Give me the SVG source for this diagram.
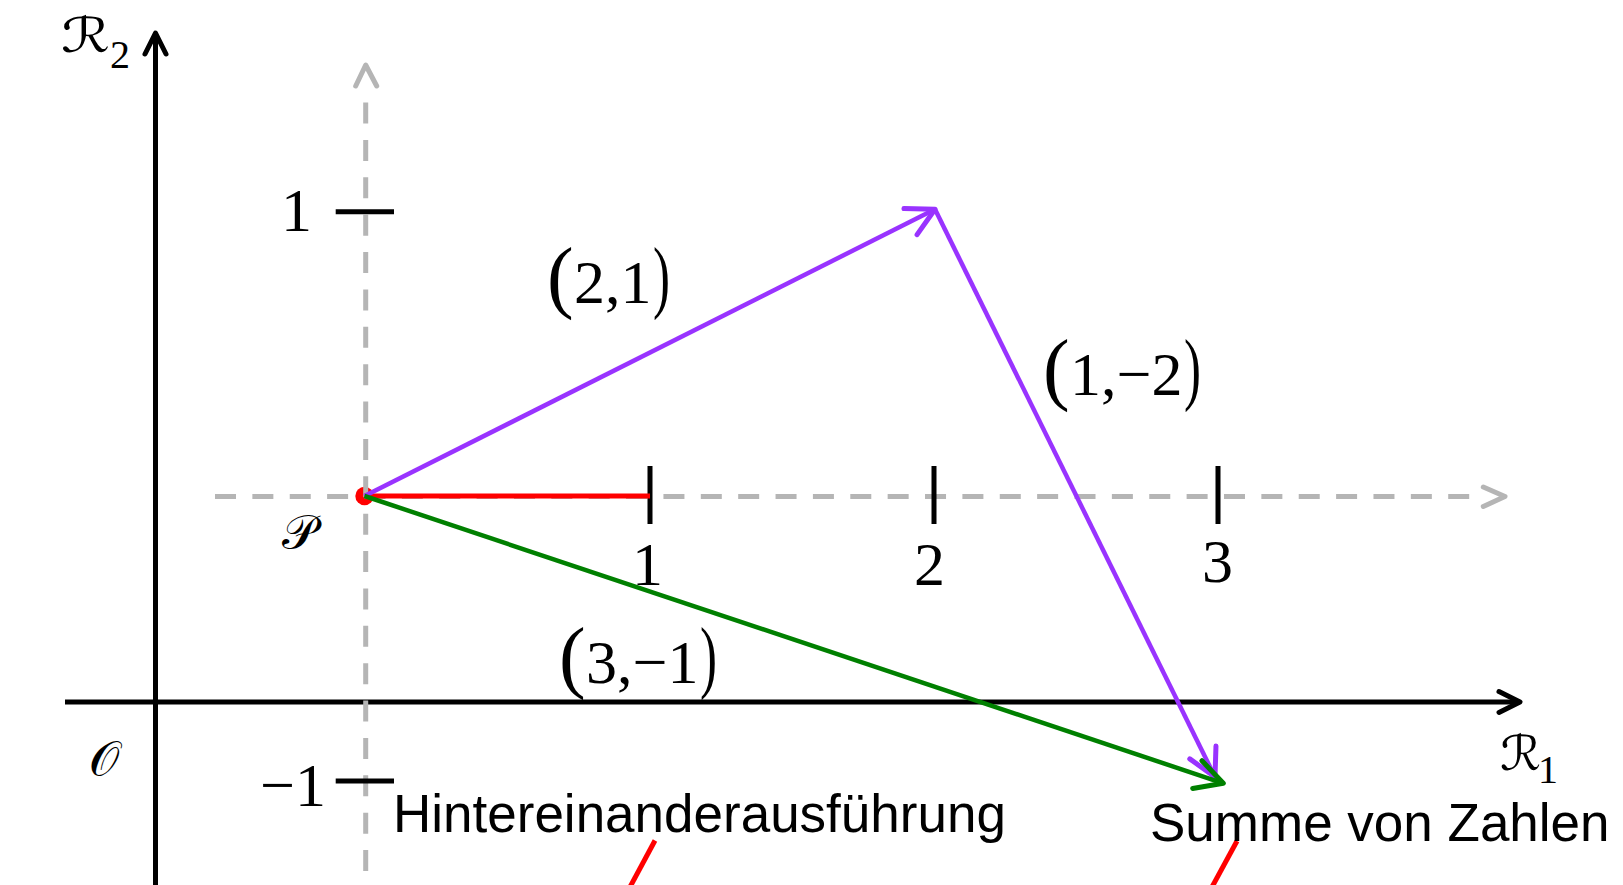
<svg xmlns="http://www.w3.org/2000/svg" width="1623" height="885" viewBox="0 0 1623 885">
<style>
.m{font-family:"Liberation Serif","Times New Roman",serif;font-size:62px;fill:#000}
.bp{font-size:80px}
.s{font-family:"Liberation Sans",Arial,sans-serif;font-size:53px;fill:#000}
.cal{font-family:"DejaVu Serif","DejaVu Sans","Noto Sans",serif;font-size:48px;fill:#000}
.sub{font-family:"Liberation Serif","Times New Roman",serif;font-size:40px}
.axis{stroke:#000;stroke-width:5;fill:none}
.tick{stroke:#000;stroke-width:5;fill:none}
.gd{stroke:#b5b5b5;stroke-width:5;fill:none;stroke-dasharray:21 16.37}
.gh{stroke:#b5b5b5;stroke-width:5;fill:none;stroke-linecap:round;stroke-linejoin:round}
.pv{stroke:#9933ff;stroke-width:4.5;fill:none}
.gv{stroke:#008000;stroke-width:4.5;fill:none}
.rl{stroke:#ff0000;stroke-width:5;fill:none}
</style>
<defs>
<marker id="ahP" markerUnits="userSpaceOnUse" orient="auto" overflow="visible" markerWidth="1" markerHeight="1" refX="0" refY="0">
<path d="M-27.4,-14.6 L0,0 L-27.4,14.6" fill="none" stroke="#9933ff" stroke-width="5" stroke-linecap="round" stroke-linejoin="round"/>
</marker>
<marker id="ahG" markerUnits="userSpaceOnUse" orient="auto" overflow="visible" markerWidth="1" markerHeight="1" refX="0" refY="0">
<path d="M-27.4,-14.6 L0,0 L-27.4,14.6" fill="none" stroke="#008000" stroke-width="5" stroke-linecap="round" stroke-linejoin="round"/>
</marker>
<marker id="ahK" markerUnits="userSpaceOnUse" orient="auto" overflow="visible" markerWidth="1" markerHeight="1" refX="0" refY="0">
<path d="M-21,-10.5 L0,0 L-21,10.5" fill="none" stroke="#000" stroke-width="5" stroke-linecap="round" stroke-linejoin="round"/>
</marker>
</defs>
<rect width="1623" height="885" fill="#fff"/>

<g id="axes">
<path class="axis" d="M155.5,885 V33" marker-end="url(#ahK)"/>
<path class="axis" d="M65,702 H1520" marker-end="url(#ahK)"/>
</g>

<g id="P-node">
<circle cx="364.5" cy="496" r="9.2" fill="#ff0000"/>
</g>

<g id="grid">
<path class="gd" d="M365.7,871 V90"/>
<polyline class="gh" points="355.7,86 365.7,65 376.7,86"/>
<path class="gd" d="M215,496.5 H1470"/>
<polyline class="gh" points="1483.3,487 1505,496.5 1483.3,506.5"/>
</g>

<g id="ticks">
<path class="tick" d="M650,466 V524 M934,466 V524 M1218,466 V524"/>
<path class="tick" d="M335.7,211.7 H394 M335.7,781 H394"/>
</g>

<g id="connectors">
<path class="rl" d="M364.5,496 H650"/>
<path class="pv" d="M364.5,496 L935,209.3" marker-end="url(#ahP)"/>
<path class="pv" d="M935,209.3 L1215,777" marker-end="url(#ahP)"/>
<path class="gv" d="M364.5,496 L1223.3,783.3" marker-end="url(#ahG)"/>
<path class="rl" d="M655,840.5 L630,887"/>
<path class="rl" d="M1237,841 L1212,887"/>
</g>

<g id="labels">
<text class="cal" x="61" y="52" textLength="49" lengthAdjust="spacingAndGlyphs">ℛ</text><text class="m sub" x="110" y="68">2</text>
<text class="cal" x="1500" y="770" font-size="52" textLength="41" lengthAdjust="spacingAndGlyphs">ℛ</text><text class="m sub" x="1538" y="783">1</text>
<text class="cal" x="89" y="775" font-size="53">𝒪</text>
<text class="cal" x="282" y="549">𝒫</text>
<text class="m" x="312" y="231" text-anchor="end">1</text>
<text class="m" x="326" y="806" text-anchor="end">−1</text>
<text class="m" x="647.5" y="585" text-anchor="middle">1</text>
<text class="m" x="929.5" y="585" text-anchor="middle">2</text>
<text class="m" x="1217.5" y="582" text-anchor="middle">3</text>
</g>

<g id="vec-21">
<text class="m" y="303"><tspan class="bp" x="547">(</tspan><tspan x="574">2,1</tspan><tspan class="bp" x="653" textLength="17" lengthAdjust="spacingAndGlyphs">)</tspan></text>
</g>
<g id="vec-1m2">
<text class="m" y="395"><tspan class="bp" x="1043">(</tspan><tspan x="1070">1,−2</tspan><tspan class="bp" x="1184" textLength="17" lengthAdjust="spacingAndGlyphs">)</tspan></text>
</g>
<g id="vec-3m1">
<text class="m" y="683"><tspan class="bp" x="559">(</tspan><tspan x="586">3,−1</tspan><tspan class="bp" x="700" textLength="17" lengthAdjust="spacingAndGlyphs">)</tspan></text>
</g>

<g id="note-hinter">
<text class="s" x="393" y="832">Hintereinanderausführung</text>
</g>
<g id="note-summe">
<text class="s" x="1150" y="841">Summe von Zahlen</text>
</g>
</svg>
